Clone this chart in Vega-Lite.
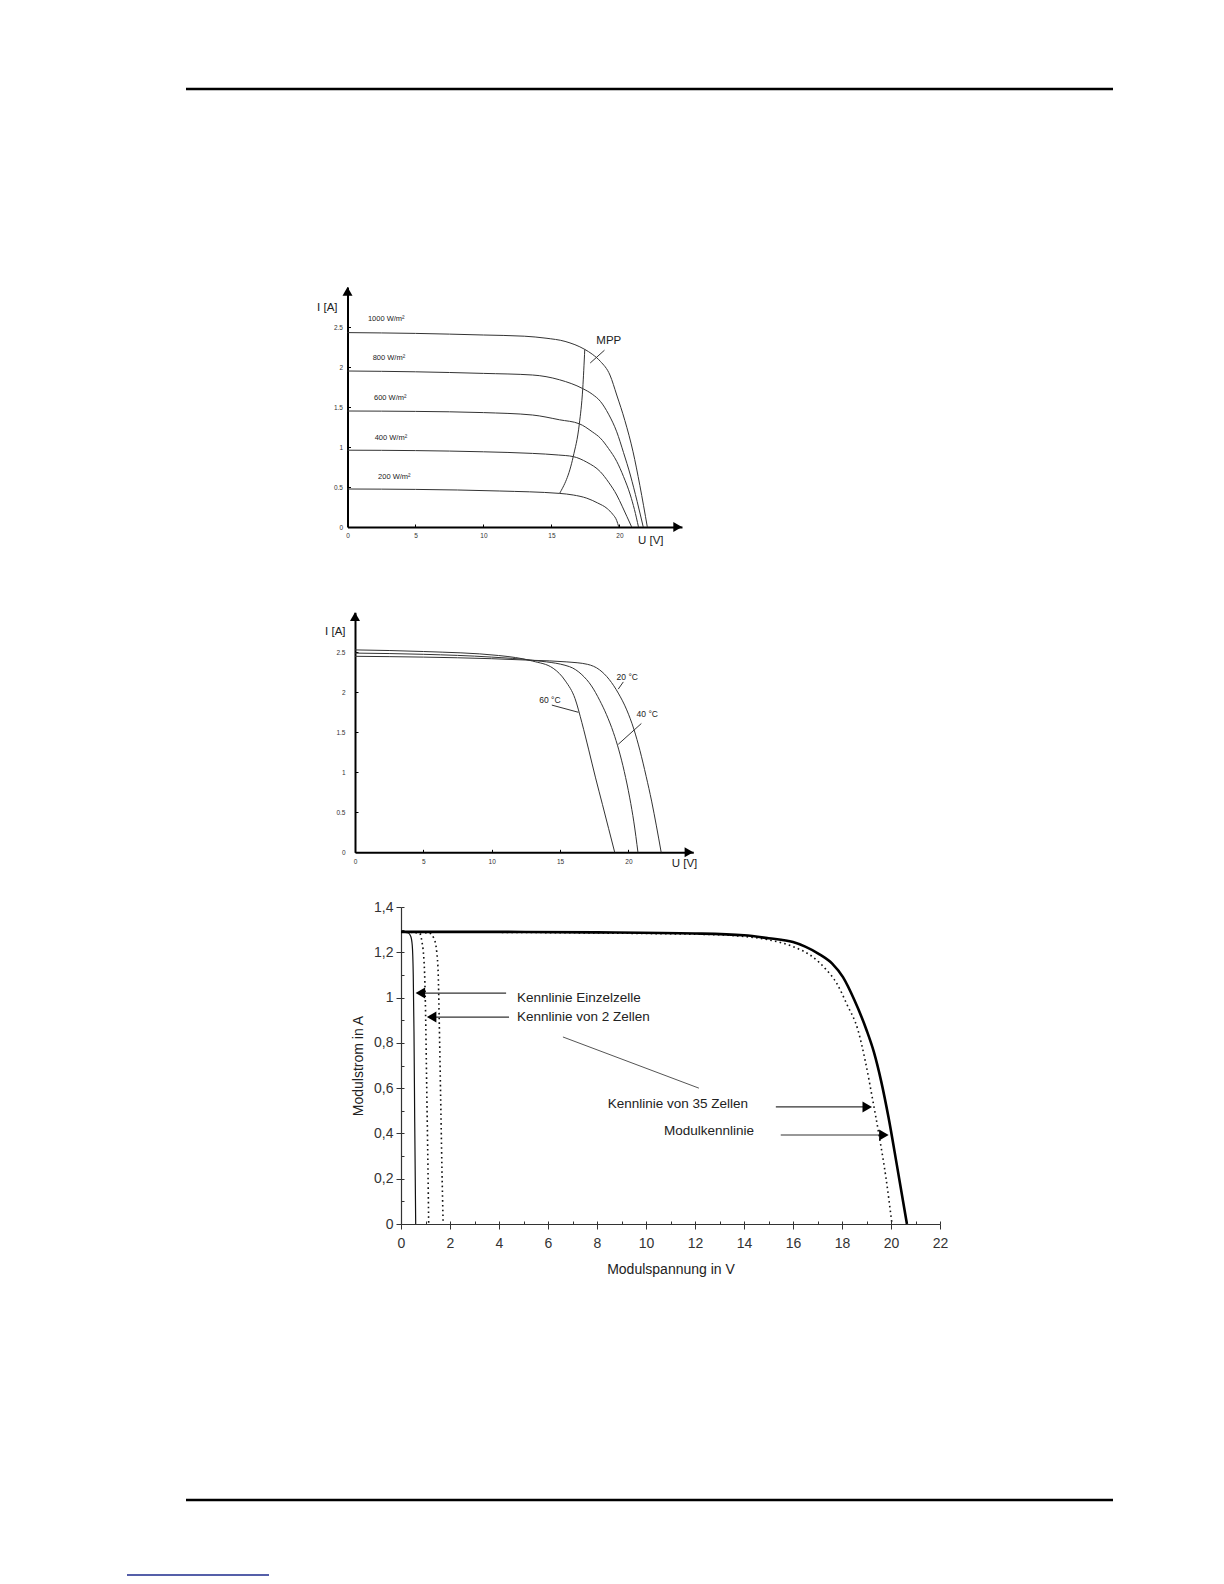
{
  "$schema": "https://vega.github.io/schema/vega-lite/v6.json",
  "width": 1224,
  "height": 1584,
  "autosize": "none",
  "padding": 0,
  "background": "white",
  "config": {
    "view": {"stroke": null},
    "font": "Liberation Sans",
    "axis": {"grid": false, "labelFont": "Liberation Sans", "titleFont": "Liberation Sans"},
    "text": {"font": "Liberation Sans"}
  },
  "datasets": {
    "page": [
      {"x1": 186, "x2": 1113, "y": 89},
      {"x1": 186, "x2": 1113, "y": 1500}
    ],
    "link": [{"x1": 127, "x2": 269, "y": 1575}],
    "c1": [
      {"s": "1000", "U": 0, "I": 2.43}, {"s": "1000", "U": 5, "I": 2.42}, {"s": "1000", "U": 10, "I": 2.4},
      {"s": "1000", "U": 13, "I": 2.385}, {"s": "1000", "U": 14.6, "I": 2.36}, {"s": "1000", "U": 16, "I": 2.32},
      {"s": "1000", "U": 17.45, "I": 2.22}, {"s": "1000", "U": 18, "I": 2.16}, {"s": "1000", "U": 18.6, "I": 2.07},
      {"s": "1000", "U": 19.3, "I": 1.9}, {"s": "1000", "U": 19.8, "I": 1.65}, {"s": "1000", "U": 20.4, "I": 1.33},
      {"s": "1000", "U": 21, "I": 0.94}, {"s": "1000", "U": 21.5, "I": 0.52}, {"s": "1000", "U": 22.05, "I": 0},
      {"s": "800", "U": 0, "I": 1.95}, {"s": "800", "U": 5, "I": 1.94}, {"s": "800", "U": 10, "I": 1.92},
      {"s": "800", "U": 13.6, "I": 1.9}, {"s": "800", "U": 15.6, "I": 1.84}, {"s": "800", "U": 17.3, "I": 1.73},
      {"s": "800", "U": 18, "I": 1.66}, {"s": "800", "U": 18.6, "I": 1.57}, {"s": "800", "U": 19.2, "I": 1.41},
      {"s": "800", "U": 19.8, "I": 1.19}, {"s": "800", "U": 20.3, "I": 0.93}, {"s": "800", "U": 20.8, "I": 0.65},
      {"s": "800", "U": 21.3, "I": 0.32}, {"s": "800", "U": 21.75, "I": 0},
      {"s": "600", "U": 0, "I": 1.45}, {"s": "600", "U": 5, "I": 1.445}, {"s": "600", "U": 10, "I": 1.43},
      {"s": "600", "U": 13.6, "I": 1.4}, {"s": "600", "U": 15.6, "I": 1.34}, {"s": "600", "U": 17.05, "I": 1.29},
      {"s": "600", "U": 18, "I": 1.19}, {"s": "600", "U": 18.6, "I": 1.11}, {"s": "600", "U": 19.2, "I": 0.98},
      {"s": "600", "U": 19.8, "I": 0.82}, {"s": "600", "U": 20.3, "I": 0.63}, {"s": "600", "U": 20.8, "I": 0.4},
      {"s": "600", "U": 21.1, "I": 0.22}, {"s": "600", "U": 21.4, "I": 0},
      {"s": "400", "U": 0, "I": 0.96}, {"s": "400", "U": 5, "I": 0.955}, {"s": "400", "U": 10, "I": 0.94},
      {"s": "400", "U": 13.6, "I": 0.92}, {"s": "400", "U": 15.5, "I": 0.9}, {"s": "400", "U": 16.6, "I": 0.88},
      {"s": "400", "U": 17.6, "I": 0.81}, {"s": "400", "U": 18.6, "I": 0.69}, {"s": "400", "U": 19.2, "I": 0.56},
      {"s": "400", "U": 19.8, "I": 0.4}, {"s": "400", "U": 20.2, "I": 0.26}, {"s": "400", "U": 20.55, "I": 0.13},
      {"s": "400", "U": 20.9, "I": 0},
      {"s": "200", "U": 0, "I": 0.475}, {"s": "200", "U": 5, "I": 0.47}, {"s": "200", "U": 11.2, "I": 0.45},
      {"s": "200", "U": 15.6, "I": 0.42}, {"s": "200", "U": 16.6, "I": 0.4}, {"s": "200", "U": 17.6, "I": 0.36},
      {"s": "200", "U": 18.4, "I": 0.3}, {"s": "200", "U": 19.1, "I": 0.23}, {"s": "200", "U": 19.5, "I": 0.16},
      {"s": "200", "U": 19.8, "I": 0.08}, {"s": "200", "U": 19.95, "I": 0}
    ],
    "mpp": [
      {"U": 15.6, "I": 0.42}, {"U": 16.6, "I": 0.88}, {"U": 17.05, "I": 1.29}, {"U": 17.3, "I": 1.73}, {"U": 17.45, "I": 2.22}
    ],
    "mppLeader": [{"U": 17.85, "I": 2.05, "U2": 18.9, "I2": 2.21}],
    "c1Labels": [
      {"U": 1.5, "I": 2.6, "t": "1000 W/m²"},
      {"U": 1.85, "I": 2.11, "t": "800 W/m²"},
      {"U": 1.95, "I": 1.61, "t": "600 W/m²"},
      {"U": 2.0, "I": 1.11, "t": "400 W/m²"},
      {"U": 2.25, "I": 0.625, "t": "200 W/m²"}
    ],
    "c1Titles": [
      {"U": 18.3, "I": 2.33, "t": "MPP"},
      {"U": -2.24, "I": 2.74, "t": "I [A]"},
      {"U": 21.36, "I": -0.17, "t": "U [V]"}
    ],
    "c1Up": [{"U": 0, "I": 2.946}],
    "c1Right": [{"U": 24.28, "I": 0}],
    "c2": [
      {"s": "60", "U": 0, "I": 2.53}, {"s": "60", "U": 5, "I": 2.51}, {"s": "60", "U": 10.5, "I": 2.46},
      {"s": "60", "U": 13, "I": 2.39}, {"s": "60", "U": 14.5, "I": 2.3}, {"s": "60", "U": 15.4, "I": 2.14},
      {"s": "60", "U": 16.1, "I": 1.92}, {"s": "60", "U": 16.6, "I": 1.62}, {"s": "60", "U": 17.1, "I": 1.28},
      {"s": "60", "U": 17.6, "I": 0.93}, {"s": "60", "U": 18.1, "I": 0.6}, {"s": "60", "U": 18.55, "I": 0.3},
      {"s": "60", "U": 19.0, "I": 0},
      {"s": "40", "U": 0, "I": 2.49}, {"s": "40", "U": 5, "I": 2.475}, {"s": "40", "U": 10, "I": 2.44},
      {"s": "40", "U": 13, "I": 2.4}, {"s": "40", "U": 15.7, "I": 2.32}, {"s": "40", "U": 16.6, "I": 2.22},
      {"s": "40", "U": 17.3, "I": 2.08}, {"s": "40", "U": 17.9, "I": 1.9}, {"s": "40", "U": 18.4, "I": 1.72},
      {"s": "40", "U": 18.9, "I": 1.5}, {"s": "40", "U": 19.3, "I": 1.28}, {"s": "40", "U": 19.7, "I": 1.01},
      {"s": "40", "U": 20.1, "I": 0.68}, {"s": "40", "U": 20.4, "I": 0.38}, {"s": "40", "U": 20.7, "I": 0},
      {"s": "20", "U": 0, "I": 2.45}, {"s": "20", "U": 5, "I": 2.44}, {"s": "20", "U": 10, "I": 2.42},
      {"s": "20", "U": 13, "I": 2.4}, {"s": "20", "U": 15.5, "I": 2.38}, {"s": "20", "U": 17.0, "I": 2.35},
      {"s": "20", "U": 17.9, "I": 2.28}, {"s": "20", "U": 18.6, "I": 2.16}, {"s": "20", "U": 19.26, "I": 1.99},
      {"s": "20", "U": 19.88, "I": 1.78}, {"s": "20", "U": 20.4, "I": 1.54}, {"s": "20", "U": 20.85, "I": 1.27},
      {"s": "20", "U": 21.3, "I": 0.95}, {"s": "20", "U": 21.7, "I": 0.64}, {"s": "20", "U": 22.05, "I": 0.33},
      {"s": "20", "U": 22.4, "I": 0}
    ],
    "c2Leaders": [
      {"U": 19.26, "I": 2.04, "U2": 19.63, "I2": 2.13},
      {"U": 20.95, "I": 1.61, "U2": 19.26, "I2": 1.35},
      {"U": 14.4, "I": 1.84, "U2": 16.35, "I2": 1.75}
    ],
    "c2Labels": [
      {"U": 19.14, "I": 2.19, "t": "20 °C"},
      {"U": 20.6, "I": 1.725, "t": "40 °C"},
      {"U": 13.48, "I": 1.91, "t": "60 °C"}
    ],
    "c2Titles": [
      {"U": -2.19, "I": 2.75, "t": "I [A]"},
      {"U": 23.17, "I": -0.14, "t": "U [V]"}
    ],
    "c2Up": [{"U": 0, "I": 2.946}],
    "c2Right": [{"U": 24.43, "I": 0}],
    "modul": [
      {"U": 0, "I": 1.29}, {"U": 4, "I": 1.29}, {"U": 8, "I": 1.288}, {"U": 12, "I": 1.283},
      {"U": 14, "I": 1.275}, {"U": 15, "I": 1.262}, {"U": 16, "I": 1.245}, {"U": 16.5, "I": 1.225},
      {"U": 17.1, "I": 1.19}, {"U": 17.6, "I": 1.15}, {"U": 18.04, "I": 1.09}, {"U": 18.5, "I": 0.99},
      {"U": 19.0, "I": 0.857}, {"U": 19.3, "I": 0.76}, {"U": 19.6, "I": 0.63}, {"U": 19.9, "I": 0.47},
      {"U": 20.24, "I": 0.26}, {"U": 20.65, "I": 0}
    ],
    "einzel": [
      {"U": 0, "I": 1.29}, {"U": 0.3, "I": 1.285}, {"U": 0.4, "I": 1.27}, {"U": 0.46, "I": 1.23},
      {"U": 0.5, "I": 1.1}, {"U": 0.53, "I": 0.85}, {"U": 0.56, "I": 0.45}, {"U": 0.6, "I": 0}
    ],
    "dotted": [
      {"s": "35", "U": 0, "I": 1.29}, {"s": "35", "U": 12, "I": 1.28}, {"s": "35", "U": 14, "I": 1.27},
      {"s": "35", "U": 15, "I": 1.255}, {"s": "35", "U": 16, "I": 1.225}, {"s": "35", "U": 16.8, "I": 1.18},
      {"s": "35", "U": 17.3, "I": 1.13}, {"s": "35", "U": 17.8, "I": 1.06}, {"s": "35", "U": 18.2, "I": 0.97},
      {"s": "35", "U": 18.65, "I": 0.857}, {"s": "35", "U": 18.95, "I": 0.72}, {"s": "35", "U": 19.25, "I": 0.55},
      {"s": "35", "U": 19.5, "I": 0.4}, {"s": "35", "U": 19.8, "I": 0.2}, {"s": "35", "U": 20.04, "I": 0},
      {"s": "2", "U": 0, "I": 1.29}, {"s": "2", "U": 0.75, "I": 1.285}, {"s": "2", "U": 0.85, "I": 1.25},
      {"s": "2", "U": 0.95, "I": 1.14}, {"s": "2", "U": 1.0, "I": 0.95}, {"s": "2", "U": 1.05, "I": 0.6},
      {"s": "2", "U": 1.1, "I": 0.25}, {"s": "2", "U": 1.13, "I": 0},
      {"s": "3", "U": 0, "I": 1.29}, {"s": "3", "U": 1.15, "I": 1.285}, {"s": "3", "U": 1.35, "I": 1.26},
      {"s": "3", "U": 1.46, "I": 1.2}, {"s": "3", "U": 1.52, "I": 1.1}, {"s": "3", "U": 1.56, "I": 0.9},
      {"s": "3", "U": 1.62, "I": 0.55}, {"s": "3", "U": 1.67, "I": 0.25}, {"s": "3", "U": 1.72, "I": 0}
    ],
    "c3Arrows": [
      {"U": 4.29, "U2": 0.7, "I": 1.02},
      {"U": 4.41, "U2": 1.15, "I": 0.914},
      {"U": 15.3, "U2": 19.1, "I": 0.517},
      {"U": 15.5, "U2": 19.8, "I": 0.393}
    ],
    "c3HeadsLeft": [{"U": 0.79, "I": 1.02}, {"U": 1.25, "I": 0.914}],
    "c3HeadsRight": [{"U": 19.03, "I": 0.517}, {"U": 19.71, "I": 0.393}],
    "c3Diag": [{"U": 6.61, "I": 0.826, "U2": 12.16, "I2": 0.6}],
    "c3Labels": [
      {"U": 4.73, "I": 0.998, "t": "Kennlinie Einzelzelle"},
      {"U": 4.73, "I": 0.913, "t": "Kennlinie von 2 Zellen"},
      {"U": 8.44, "I": 0.53, "t": "Kennlinie von 35 Zellen"},
      {"U": 10.73, "I": 0.412, "t": "Modulkennlinie"}
    ]
  },
  "resolve": {
    "scale": {"x": "independent", "y": "independent"},
    "axis": {"x": "independent", "y": "independent"}
  },
  "layer": [
    {
      "data": {"name": "page"},
      "mark": {"type": "rule", "color": "#000", "strokeWidth": 2.5},
      "encoding": {
        "x": {"field": "x1", "type": "quantitative", "scale": {"domain": [0, 1224], "range": [0, 1224], "nice": false}, "axis": null},
        "x2": {"field": "x2"},
        "y": {"field": "y", "type": "quantitative", "scale": {"domain": [0, 1584], "range": [0, 1584], "nice": false}, "axis": null}
      }
    },
    {
      "data": {"name": "link"},
      "mark": {"type": "rule", "color": "#1c2a8c", "strokeWidth": 1.5},
      "encoding": {
        "x": {"field": "x1", "type": "quantitative", "scale": {"domain": [0, 1224], "range": [0, 1224], "nice": false}, "axis": null},
        "x2": {"field": "x2"},
        "y": {"field": "y", "type": "quantitative", "scale": {"domain": [0, 1584], "range": [0, 1584], "nice": false}, "axis": null}
      }
    },
    {
      "data": {"name": "c1"},
      "mark": {"type": "line", "color": "#333", "strokeWidth": 1, "interpolate": "monotone"},
      "encoding": {
        "x": {"field": "U", "type": "quantitative", "scale": {"domain": [0, 24.6], "range": [347.5, 682], "nice": false},
          "axis": {"orient": "bottom", "offset": -1057, "values": [0, 5, 10, 15, 20], "title": null, "domainColor": "#000", "domainWidth": 2,
            "tickColor": "#000", "tickSize": -3, "labelFontSize": 6.5, "labelPadding": 8, "labelColor": "#333", "labelFlush": false, "labelOverlap": false}},
        "y": {"field": "I", "type": "quantitative", "scale": {"domain": [0, 3], "range": [527, 287], "nice": false},
          "axis": {"orient": "left", "offset": -347.5, "values": [0, 0.5, 1, 1.5, 2, 2.5], "labelExpr": "format(datum.value, '~g')", "title": null,
            "domainColor": "#000", "domainWidth": 2, "tickColor": "#000", "tickSize": -3, "labelFontSize": 6.5, "labelPadding": 8,
            "labelColor": "#333", "labelFlush": false, "labelOverlap": false}},
        "detail": {"field": "s"}
      }
    },
    {
      "data": {"name": "mpp"},
      "mark": {"type": "line", "color": "#333", "strokeWidth": 1, "interpolate": "monotone"},
      "encoding": {
        "x": {"field": "U", "type": "quantitative", "scale": {"domain": [0, 24.6], "range": [347.5, 682], "nice": false}, "axis": null},
        "y": {"field": "I", "type": "quantitative", "scale": {"domain": [0, 3], "range": [527, 287], "nice": false}, "axis": null}
      }
    },
    {
      "data": {"name": "mppLeader"},
      "mark": {"type": "rule", "color": "#333", "strokeWidth": 1},
      "encoding": {
        "x": {"field": "U", "type": "quantitative", "scale": {"domain": [0, 24.6], "range": [347.5, 682], "nice": false}, "axis": null},
        "y": {"field": "I", "type": "quantitative", "scale": {"domain": [0, 3], "range": [527, 287], "nice": false}, "axis": null},
        "x2": {"field": "U2"},
        "y2": {"field": "I2"}
      }
    },
    {
      "data": {"name": "c1Labels"},
      "mark": {"type": "text", "align": "left", "baseline": "middle", "fontSize": 7.5, "color": "#222"},
      "encoding": {
        "x": {"field": "U", "type": "quantitative", "scale": {"domain": [0, 24.6], "range": [347.5, 682], "nice": false}, "axis": null},
        "y": {"field": "I", "type": "quantitative", "scale": {"domain": [0, 3], "range": [527, 287], "nice": false}, "axis": null},
        "text": {"field": "t"}
      }
    },
    {
      "data": {"name": "c1Titles"},
      "mark": {"type": "text", "align": "left", "baseline": "middle", "fontSize": 11.5, "color": "#222"},
      "encoding": {
        "x": {"field": "U", "type": "quantitative", "scale": {"domain": [0, 24.6], "range": [347.5, 682], "nice": false}, "axis": null},
        "y": {"field": "I", "type": "quantitative", "scale": {"domain": [0, 3], "range": [527, 287], "nice": false}, "axis": null},
        "text": {"field": "t"}
      }
    },
    {
      "data": {"name": "c1Up"},
      "mark": {"type": "point", "shape": "triangle-up", "filled": true, "color": "#000", "size": 100, "opacity": 1},
      "encoding": {
        "x": {"field": "U", "type": "quantitative", "scale": {"domain": [0, 24.6], "range": [347.5, 682], "nice": false}, "axis": null},
        "y": {"field": "I", "type": "quantitative", "scale": {"domain": [0, 3], "range": [527, 287], "nice": false}, "axis": null}
      }
    },
    {
      "data": {"name": "c1Right"},
      "mark": {"type": "point", "shape": "triangle-right", "filled": true, "color": "#000", "size": 100, "opacity": 1},
      "encoding": {
        "x": {"field": "U", "type": "quantitative", "scale": {"domain": [0, 24.6], "range": [347.5, 682], "nice": false}, "axis": null},
        "y": {"field": "I", "type": "quantitative", "scale": {"domain": [0, 3], "range": [527, 287], "nice": false}, "axis": null}
      }
    },
    {
      "data": {"name": "c2"},
      "mark": {"type": "line", "color": "#333", "strokeWidth": 1, "interpolate": "monotone"},
      "encoding": {
        "x": {"field": "U", "type": "quantitative", "scale": {"domain": [0, 24.75], "range": [355, 693.3], "nice": false},
          "axis": {"orient": "bottom", "offset": -731.7, "values": [0, 5, 10, 15, 20], "title": null, "domainColor": "#000", "domainWidth": 2,
            "tickColor": "#000", "tickSize": -3, "labelFontSize": 6.5, "labelPadding": 9, "labelColor": "#333", "labelFlush": false, "labelOverlap": false}},
        "y": {"field": "I", "type": "quantitative", "scale": {"domain": [0, 3], "range": [852.3, 612.3], "nice": false},
          "axis": {"orient": "left", "offset": -355, "values": [0, 0.5, 1, 1.5, 2, 2.5], "labelExpr": "format(datum.value, '~g')", "title": null,
            "domainColor": "#000", "domainWidth": 2, "tickColor": "#000", "tickSize": -3, "labelFontSize": 6.5, "labelPadding": 13,
            "labelColor": "#333", "labelFlush": false, "labelOverlap": false}},
        "detail": {"field": "s"}
      }
    },
    {
      "data": {"name": "c2Leaders"},
      "mark": {"type": "rule", "color": "#333", "strokeWidth": 1},
      "encoding": {
        "x": {"field": "U", "type": "quantitative", "scale": {"domain": [0, 24.75], "range": [355, 693.3], "nice": false}, "axis": null},
        "y": {"field": "I", "type": "quantitative", "scale": {"domain": [0, 3], "range": [852.3, 612.3], "nice": false}, "axis": null},
        "x2": {"field": "U2"},
        "y2": {"field": "I2"}
      }
    },
    {
      "data": {"name": "c2Labels"},
      "mark": {"type": "text", "align": "left", "baseline": "middle", "fontSize": 8.5, "color": "#222"},
      "encoding": {
        "x": {"field": "U", "type": "quantitative", "scale": {"domain": [0, 24.75], "range": [355, 693.3], "nice": false}, "axis": null},
        "y": {"field": "I", "type": "quantitative", "scale": {"domain": [0, 3], "range": [852.3, 612.3], "nice": false}, "axis": null},
        "text": {"field": "t"}
      }
    },
    {
      "data": {"name": "c2Titles"},
      "mark": {"type": "text", "align": "left", "baseline": "middle", "fontSize": 11.5, "color": "#222"},
      "encoding": {
        "x": {"field": "U", "type": "quantitative", "scale": {"domain": [0, 24.75], "range": [355, 693.3], "nice": false}, "axis": null},
        "y": {"field": "I", "type": "quantitative", "scale": {"domain": [0, 3], "range": [852.3, 612.3], "nice": false}, "axis": null},
        "text": {"field": "t"}
      }
    },
    {
      "data": {"name": "c2Up"},
      "mark": {"type": "point", "shape": "triangle-up", "filled": true, "color": "#000", "size": 100, "opacity": 1},
      "encoding": {
        "x": {"field": "U", "type": "quantitative", "scale": {"domain": [0, 24.75], "range": [355, 693.3], "nice": false}, "axis": null},
        "y": {"field": "I", "type": "quantitative", "scale": {"domain": [0, 3], "range": [852.3, 612.3], "nice": false}, "axis": null}
      }
    },
    {
      "data": {"name": "c2Right"},
      "mark": {"type": "point", "shape": "triangle-right", "filled": true, "color": "#000", "size": 100, "opacity": 1},
      "encoding": {
        "x": {"field": "U", "type": "quantitative", "scale": {"domain": [0, 24.75], "range": [355, 693.3], "nice": false}, "axis": null},
        "y": {"field": "I", "type": "quantitative", "scale": {"domain": [0, 3], "range": [852.3, 612.3], "nice": false}, "axis": null}
      }
    },
    {
      "data": {"name": "dotted"},
      "mark": {"type": "line", "color": "#111", "strokeWidth": 1.6, "strokeDash": [1.6, 3.2], "interpolate": "monotone"},
      "encoding": {
        "x": {"field": "U", "type": "quantitative", "scale": {"domain": [0, 22], "range": [401, 940], "nice": false},
          "axis": {"orient": "bottom", "offset": -360, "values": [0, 1, 2, 3, 4, 5, 6, 7, 8, 9, 10, 11, 12, 13, 14, 15, 16, 17, 18, 19, 20, 21, 22],
            "labels": false, "domain": false, "title": null, "tickSize": -3, "tickColor": "#333"}},
        "y": {"field": "I", "type": "quantitative", "scale": {"domain": [0, 1.4], "range": [1224, 907], "nice": false},
          "axis": {"orient": "left", "offset": -401, "values": [0, 0.1, 0.2, 0.3, 0.4, 0.5, 0.6, 0.7, 0.8, 0.9, 1, 1.1, 1.2, 1.3, 1.4],
            "labels": false, "domain": false, "title": null, "tickSize": -3, "tickColor": "#333"}},
        "detail": {"field": "s"}
      }
    },
    {
      "data": {"name": "einzel"},
      "mark": {"type": "line", "color": "#111", "strokeWidth": 1.2, "interpolate": "monotone"},
      "encoding": {
        "x": {"field": "U", "type": "quantitative", "scale": {"domain": [0, 22], "range": [401, 940], "nice": false}, "axis": null},
        "y": {"field": "I", "type": "quantitative", "scale": {"domain": [0, 1.4], "range": [1224, 907], "nice": false}, "axis": null}
      }
    },
    {
      "data": {"name": "modul"},
      "mark": {"type": "line", "color": "#000", "strokeWidth": 2.6, "interpolate": "monotone"},
      "encoding": {
        "x": {"field": "U", "type": "quantitative", "scale": {"domain": [0, 22], "range": [401, 940], "nice": false},
          "axis": {"orient": "bottom", "offset": -360, "values": [0, 2, 4, 6, 8, 10, 12, 14, 16, 18, 20, 22], "title": "Modulspannung in V",
            "titleFontSize": 14, "titleFontWeight": "normal", "titleColor": "#222", "titlePadding": 12,
            "domainColor": "#333", "domainWidth": 1.2, "tickColor": "#333", "tickSize": 5, "labelFontSize": 14, "labelPadding": 7,
            "labelColor": "#333", "labelFlush": false, "labelOverlap": false}},
        "y": {"field": "I", "type": "quantitative", "scale": {"domain": [0, 1.4], "range": [1224, 907], "nice": false},
          "axis": {"orient": "left", "offset": -401, "values": [0, 0.2, 0.4, 0.6, 0.8, 1, 1.2, 1.4],
            "labelExpr": "datum.value % 1 === 0 ? format(datum.value, 'd') : replace(format(datum.value, '.1f'), '.', ',')",
            "title": "Modulstrom in A", "titleFontSize": 14, "titleFontWeight": "normal", "titleColor": "#222", "titlePadding": 8,
            "domainColor": "#333", "domainWidth": 1.2, "tickColor": "#333", "tickSize": 5, "labelFontSize": 14, "labelPadding": 3,
            "labelColor": "#333", "labelFlush": false, "labelOverlap": false}}
      }
    },
    {
      "data": {"name": "c3Arrows"},
      "mark": {"type": "rule", "color": "#333", "strokeWidth": 1.2},
      "encoding": {
        "x": {"field": "U", "type": "quantitative", "scale": {"domain": [0, 22], "range": [401, 940], "nice": false}, "axis": null},
        "x2": {"field": "U2"},
        "y": {"field": "I", "type": "quantitative", "scale": {"domain": [0, 1.4], "range": [1224, 907], "nice": false}, "axis": null}
      }
    },
    {
      "data": {"name": "c3HeadsLeft"},
      "mark": {"type": "point", "shape": "triangle-left", "filled": true, "color": "#000", "size": 120, "opacity": 1},
      "encoding": {
        "x": {"field": "U", "type": "quantitative", "scale": {"domain": [0, 22], "range": [401, 940], "nice": false}, "axis": null},
        "y": {"field": "I", "type": "quantitative", "scale": {"domain": [0, 1.4], "range": [1224, 907], "nice": false}, "axis": null}
      }
    },
    {
      "data": {"name": "c3HeadsRight"},
      "mark": {"type": "point", "shape": "triangle-right", "filled": true, "color": "#000", "size": 120, "opacity": 1},
      "encoding": {
        "x": {"field": "U", "type": "quantitative", "scale": {"domain": [0, 22], "range": [401, 940], "nice": false}, "axis": null},
        "y": {"field": "I", "type": "quantitative", "scale": {"domain": [0, 1.4], "range": [1224, 907], "nice": false}, "axis": null}
      }
    },
    {
      "data": {"name": "c3Diag"},
      "mark": {"type": "rule", "color": "#555", "strokeWidth": 1},
      "encoding": {
        "x": {"field": "U", "type": "quantitative", "scale": {"domain": [0, 22], "range": [401, 940], "nice": false}, "axis": null},
        "y": {"field": "I", "type": "quantitative", "scale": {"domain": [0, 1.4], "range": [1224, 907], "nice": false}, "axis": null},
        "x2": {"field": "U2"},
        "y2": {"field": "I2"}
      }
    },
    {
      "data": {"name": "c3Labels"},
      "mark": {"type": "text", "align": "left", "baseline": "middle", "fontSize": 13.5, "color": "#222"},
      "encoding": {
        "x": {"field": "U", "type": "quantitative", "scale": {"domain": [0, 22], "range": [401, 940], "nice": false}, "axis": null},
        "y": {"field": "I", "type": "quantitative", "scale": {"domain": [0, 1.4], "range": [1224, 907], "nice": false}, "axis": null},
        "text": {"field": "t"}
      }
    }
  ]
}
